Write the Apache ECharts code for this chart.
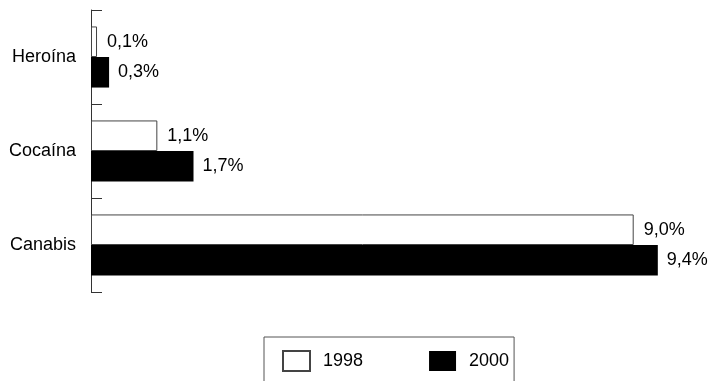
<!DOCTYPE html>
<html><head><meta charset="utf-8">
<script src="https://cdn.jsdelivr.net/npm/echarts@6/dist/echarts.min.js"></script>
<style>html,body{margin:0;padding:0;background:#fff}#c{width:713px;height:381px}</style>
</head><body><div id="c"></div>
<script>
var categories = ['Heroína', 'Cocaína', 'Canabis'];
var values1998 = [0.1, 1.1, 9.0];
var values2000 = [0.3, 1.7, 9.4];
var seriesNames = ['1998', '2000'];

var font = 'Liberation Sans, Arial, sans-serif';
var fmt = function (p) { return p.value.toFixed(1).replace('.', ',') + '%'; };
var chart = echarts.init(document.getElementById('c'));
chart.setOption({
  animation: false,
  grid: { left: 91, top: 10, width: 603, height: 282 },
  xAxis: { type: 'value', min: 0, max: 10, show: false },
  yAxis: {
    type: 'category', data: categories, inverse: true,
    axisLine: { show: true, lineStyle: { color: '#333', width: 1 } },
    axisTick: { show: true, inside: true, length: 11, alignWithLabel: false, lineStyle: { color: '#333', width: 1 } },
    axisLabel: { margin: 15, color: '#000', fontSize: 18, fontFamily: font }
  },
  legend: {
    left: 264, top: 337, orient: 'horizontal',
    padding: [13, 5, 30, 18],
    borderColor: '#555', borderWidth: 1,
    icon: 'rect',
    itemWidth: 27, itemHeight: 20, itemGap: 66,
    textStyle: { fontSize: 18, fontFamily: font, color: '#000', padding: [0, 0, 0, 8] },
    data: seriesNames
  },
  series: [
    {
      name: seriesNames[0], type: 'bar', data: values1998,
      barGap: '0%', barCategoryGap: '35%',
      itemStyle: { color: '#fff', borderColor: '#444', borderWidth: 1 },
      label: { show: true, position: 'right', distance: 10, formatter: fmt, color: '#000', fontSize: 18, fontFamily: font }
    },
    {
      name: seriesNames[1], type: 'bar', data: values2000,
      barGap: '0%', barCategoryGap: '35%',
      itemStyle: { color: '#000' },
      label: { show: true, position: 'right', distance: 9, formatter: fmt, color: '#000', fontSize: 18, fontFamily: font }
    }
  ]
});
</script></body></html>
